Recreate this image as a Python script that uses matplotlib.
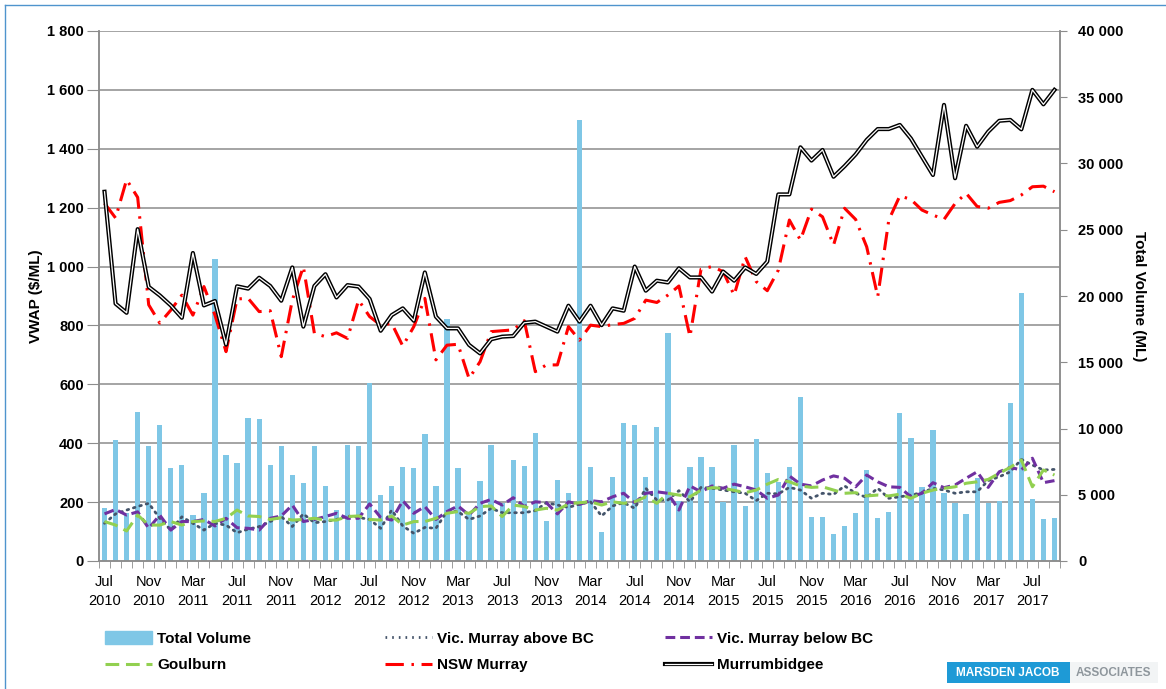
import matplotlib
matplotlib.use("Agg")
import matplotlib.pyplot as plt
import matplotlib.patheffects as pe
from matplotlib.patches import Rectangle, Patch
from matplotlib.lines import Line2D
import numpy as np
import pandas as pd

plt.rcParams['font.family'] = ['Liberation Sans', 'DejaVu Sans']

# monthly, Jul 2010 - Sep 2017
months = pd.date_range('2010-07-01', periods=87, freq='MS')

total_volume = [3975, 9133, 3600, 11272, 8680, 10265, 6994, 7246, 3472, 5158, 22795, 8000, 7372, 10768, 10693,
                7246, 8680, 6491, 5913, 8680, 5686, 3849, 8730, 8680, 13410, 4982, 5686, 7120, 7045,
                9586, 5661, 18241, 7045, 3724, 6064, 8756, 4353, 7623, 7170, 9686, 3019, 6114, 5107,
                33300, 7070, 2214, 6315, 10391, 10240, 6365, 10139, 17184, 4500, 7120, 7875, 7120, 4478, 8756,
                4151, 9183, 6617, 6000, 7120, 12353, 3346, 3296, 2038, 2642, 3648, 6869, 3271, 3699, 11196,
                9259, 5560, 9888, 5158, 4403, 3548, 6240, 4403, 4554, 11900, 20203, 4655, 3170, 3271]

vic_above_bc = [128, 160, 173, 185, 196, 145, 105, 150, 128, 105, 128, 122, 96, 108, 117,
                134, 151, 117, 160, 130, 134, 141, 153, 148, 141, 111, 173, 119, 94,
                114, 111, 168, 168, 141, 153, 179, 164, 164, 164, 171, 198, 190, 182,
                193, 201, 153, 187, 198, 179, 247, 207, 207, 239, 201, 250, 247, 241, 235,
                230, 205, 230, 228, 250, 241, 213, 230, 226, 255, 230, 216, 247, 213, 218,
                224, 232, 247, 241, 230, 235, 235, 273, 286, 303, 345, 326, 309, 311]

vic_below_bc = [160, 175, 156, 167, 111, 156, 105, 134, 134, 141, 119, 145, 113, 111, 105,
                145, 153, 190, 134, 141, 151, 162, 145, 145, 194, 148, 139, 205, 162,
                185, 141, 168, 187, 156, 196, 209, 190, 215, 185, 201, 198, 160, 201,
                192, 205, 201, 218, 230, 198, 230, 235, 230, 173, 255, 235, 255, 247, 261,
                252, 241, 213, 224, 289, 261, 255, 275, 289, 281, 252, 292, 269, 252, 250,
                218, 230, 266, 249, 258, 281, 303, 250, 303, 318, 309, 349, 266, 273]

goulburn = [134, 122, 102, 156, 122, 122, 134, 122, 134, 136, 134, 145, 173, 153, 151,
            141, 147, 139, 141, 145, 139, 139, 151, 153, 141, 139, 153, 122, 134,
            134, 145, 162, 168, 162, 185, 187, 151, 190, 185, 173, 179, 173, 194,
            198, 201, 190, 201, 196, 201, 218, 196, 230, 224, 218, 241, 249, 247, 240,
            232, 241, 261, 277, 269, 255, 250, 252, 241, 230, 232, 221, 224, 221, 227,
            213, 230, 241, 247, 252, 264, 269, 277, 298, 318, 343, 252, 309, 292]

nsw_murray = [1215, 1165, 1295, 1235, 870, 808, 852, 903, 835, 932, 835, 711, 890, 892, 847,
              850, 694, 886, 1000, 773, 762, 775, 756, 886, 830, 801, 807, 730, 796,
              892, 683, 733, 736, 620, 677, 779, 782, 785, 816, 643, 666, 666, 796,
              750, 801, 796, 803, 807, 824, 886, 878, 903, 934, 762, 991, 1000, 983, 903,
              1033, 949, 918, 988, 1158, 1090, 1195, 1169, 1073, 1198, 1160, 1067, 898, 1158, 1240,
              1228, 1192, 1175, 1160, 1214, 1249, 1204, 1198, 1218, 1224, 1243, 1271, 1273, 1254]

murrumbidgee = [1254, 874, 843, 1127, 931, 902, 868, 826, 1046, 868, 883, 735, 933, 925, 962,
                934, 884, 997, 796, 934, 974, 895, 937, 932, 890, 782, 835, 858, 816,
                980, 830, 790, 790, 734, 705, 753, 762, 764, 809, 813, 796, 779, 867,
                813, 867, 801, 858, 850, 1000, 918, 952, 946, 994, 963, 963, 915, 983, 952,
                997, 975, 1017, 1245, 1245, 1405, 1360, 1396, 1305, 1341, 1381, 1430, 1467, 1467, 1481,
                1435, 1373, 1311, 1549, 1300, 1478, 1407, 1458, 1495, 1498, 1466, 1600, 1551, 1600]

vwap_ticks = list(range(0, 1801, 200))
vol_ticks = list(range(0, 40001, 5000))

W, H = 1166, 689
fig = plt.figure(figsize=(W / 100, H / 100), dpi=100)
ax = fig.add_axes([99 / W, 1 - 561 / H, (1060 - 99) / W, (561 - 31) / H])
ax2 = ax.twinx()

x = np.arange(len(months))
grid_col = '#8c8c8c'
bar_col = '#7FC7E6'
murr_fx = [pe.Stroke(linewidth=3.0, foreground='black'), pe.Normal()]

# bars on the bottom axes, scale shown on the right
for v in vwap_ticks[1:]:
    ax.axhline(v * 40000 / 1800, color=grid_col, lw=1.1, zorder=0)
ax.bar(x, total_volume, width=0.48, color=bar_col, zorder=2)
ax.set_ylim(0, 40000)
ax.set_xlim(-0.5, len(months) - 0.5)
ax.yaxis.tick_right()
ax.yaxis.set_label_position('right')
ax.set_yticks(vol_ticks)
ax.set_yticklabels([f'{v:,}'.replace(',', ' ') for v in vol_ticks], fontsize=10.5, fontweight='bold')
ax.tick_params(axis='y', length=5, color=grid_col, pad=8)
ax.set_ylabel('Total Volume (ML)', fontsize=11, fontweight='bold', rotation=270, labelpad=16)

# lines on the twin, scale shown on the left
ax2.plot(x, vic_above_bc, color='#44546A', lw=2, ls=(0, (0.6, 1.8)), dash_capstyle='round')
ax2.plot(x, vic_below_bc, color='#7030A0', lw=2.2, ls=(0, (3.2, 1.6)))
ax2.plot(x, goulburn, color='#92D050', lw=2.2, ls=(0, (4.5, 2.2)))
ax2.plot(x, nsw_murray, color='#FF0000', lw=2.2, ls=(0, (6, 2.5, 0.8, 2.5)))
ax2.plot(x, murrumbidgee, color='white', lw=0.9, path_effects=murr_fx)
ax2.set_ylim(0, 1800)
ax2.yaxis.tick_left()
ax2.yaxis.set_label_position('left')
ax2.set_yticks(vwap_ticks)
ax2.set_yticklabels([f'{v:,}'.replace(',', ' ') for v in vwap_ticks], fontsize=10.5, fontweight='bold')
ax2.tick_params(axis='y', length=9, color=grid_col, pad=2)
ax2.set_ylabel('VWAP ($/ML)', fontsize=11, fontweight='bold', labelpad=3)

for a in (ax, ax2):
    a.spines['top'].set_visible(False)
    for s in ('left', 'right', 'bottom'):
        a.spines[s].set_color(grid_col)
        a.spines[s].set_linewidth(1.1)

# month ticks at category edges, labels every 4 months
ax.set_xticks(np.arange(-0.5, len(months), 1), minor=True)
ax.set_xticks(x[::4])
ax.set_xticklabels([m.strftime('%b\n%Y') for m in months[::4]], fontsize=10.5, linespacing=1.5)
ax.tick_params(axis='x', which='major', length=0, pad=10)
ax.tick_params(axis='x', which='minor', length=5, color=grid_col)
ax2.tick_params(axis='x', length=0)

# legend in three columns
leg_font = {'size': 11, 'weight': 'bold'}
h_vol = Patch(color=bar_col)
h_above = Line2D([], [], color='#44546A', lw=2, ls=(0, (0.6, 1.8)))
h_below = Line2D([], [], color='#7030A0', lw=2.2, ls=(0, (3.2, 1.6)))
h_goul = Line2D([], [], color='#92D050', lw=2.2, ls=(0, (4.5, 2.2)))
h_nsw = Line2D([], [], color='#FF0000', lw=2.2, ls=(0, (6, 2.5, 0.8, 2.5)))
h_mur = Line2D([], [], color='white', lw=0.9, path_effects=murr_fx)
cols = [([h_vol, h_goul], ['Total Volume', 'Goulburn'], 105),
        ([h_above, h_nsw], ['Vic. Murray above BC', 'NSW Murray'], 385),
        ([h_below, h_mur], ['Vic. Murray below BC', 'Murrumbidgee'], 665)]
for handles, labels, xl in cols:
    fig.legend(handles, labels, loc='upper left', bbox_to_anchor=(xl / W, 1 - 631 / H),
               frameon=False, prop=leg_font, handlelength=3.1, handleheight=0.9,
               handletextpad=0.3, labelspacing=0.8, borderpad=0, borderaxespad=0)

# logo
fig.patches.append(Rectangle((947 / W, 1 - 683 / H), 123 / W, 21 / H, transform=fig.transFigure,
                             facecolor='#1E9AD6', edgecolor='none'))
fig.patches.append(Rectangle((1070 / W, 1 - 683 / H), 88 / W, 21 / H, transform=fig.transFigure,
                             facecolor='#F2F4F5', edgecolor='none'))
fig.text(1008 / W, 1 - 672.5 / H, 'MARSDEN JACOB', color='white', fontsize=8.5, fontweight='bold',
         ha='center', va='center')
fig.text(1113 / W, 1 - 672.5 / H, 'ASSOCIATES', color='#8E969C', fontsize=8.5, fontweight='bold',
         ha='center', va='center')

# outer frame (top and left edges visible)
fig.add_artist(Line2D([5 / W, 5 / W], [0, 1 - 5 / H], transform=fig.transFigure, color='#4F94CD', lw=1))
fig.add_artist(Line2D([5 / W, 1], [1 - 5 / H, 1 - 5 / H], transform=fig.transFigure, color='#4F94CD', lw=1))

fig.savefig('out.png', dpi=100)
